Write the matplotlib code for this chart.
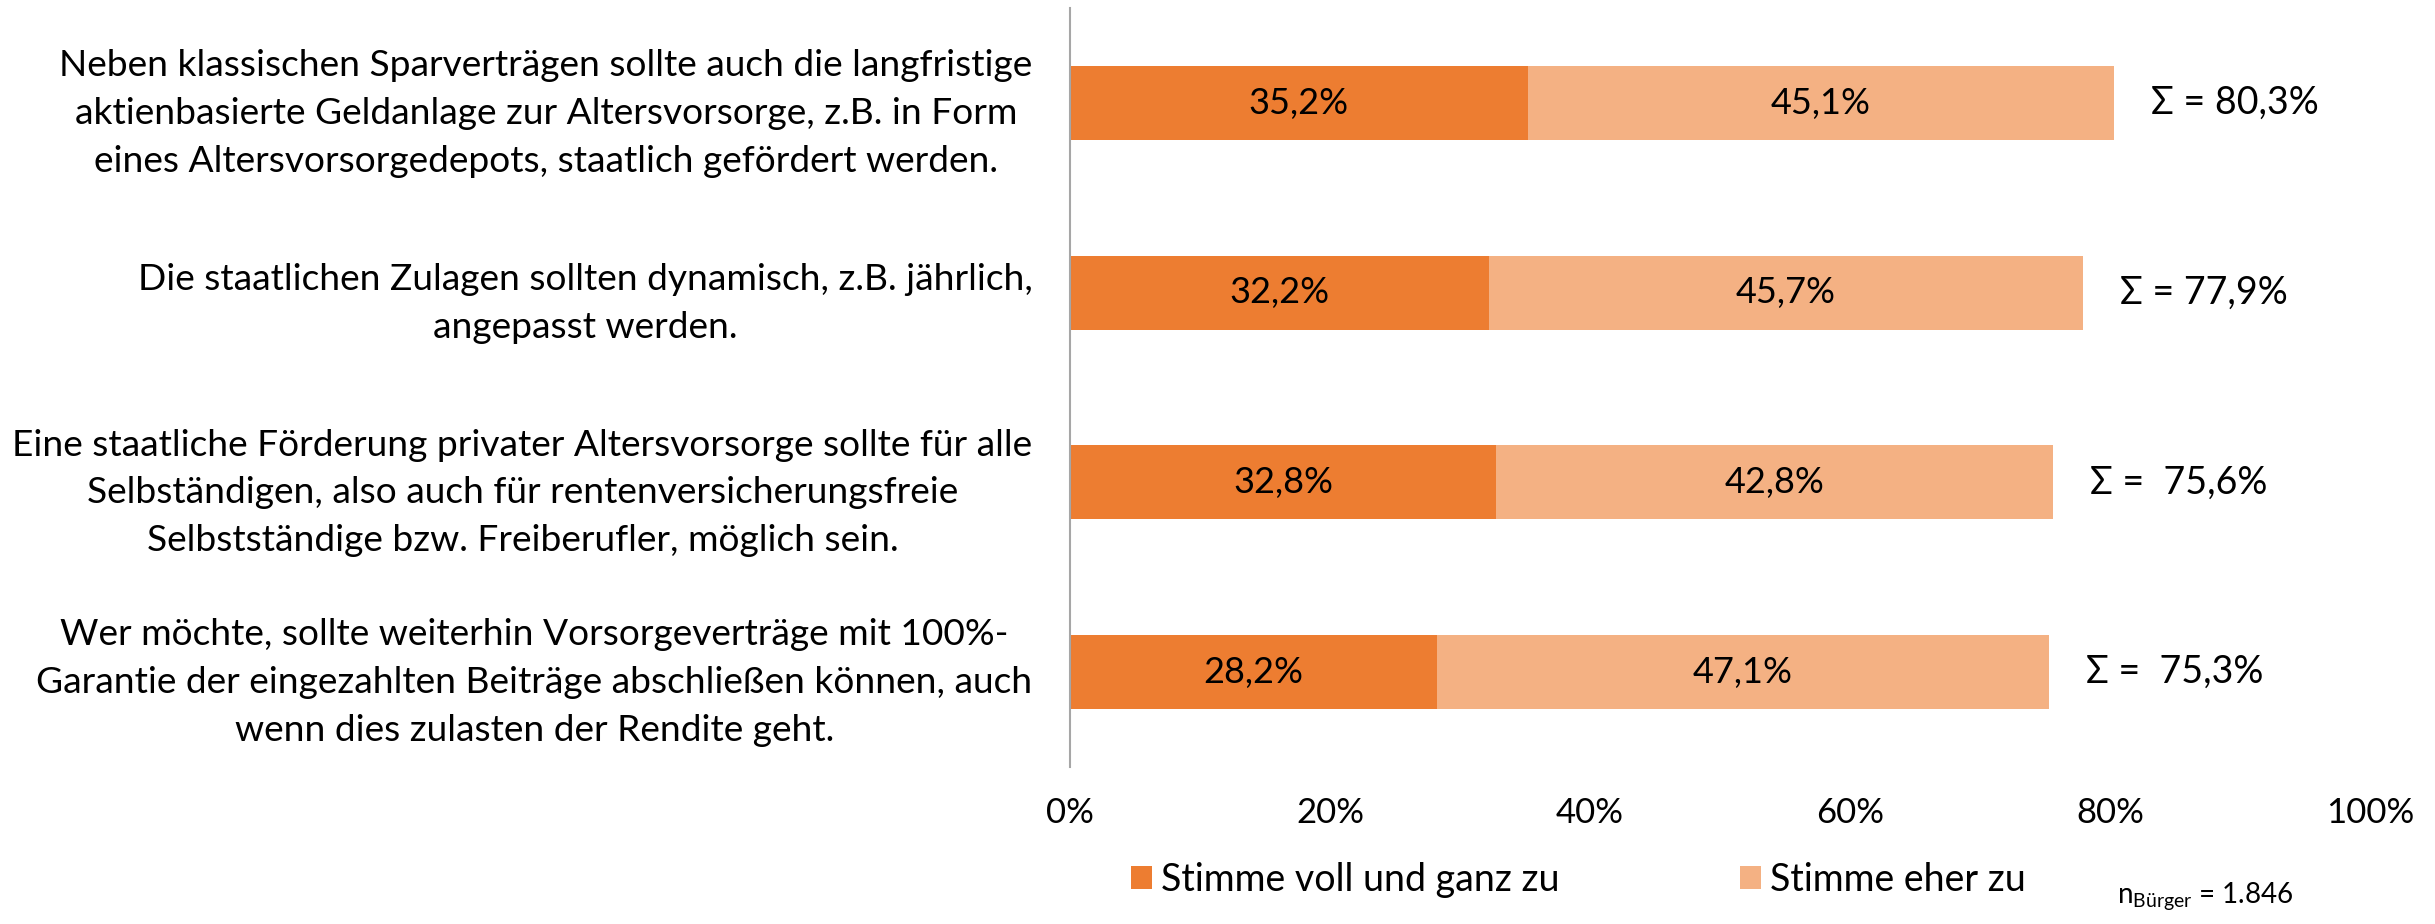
import matplotlib.pyplot as plt
import numpy as np

plt.rcParams['font.family'] = ['Lato', 'DejaVu Sans']
plt.rcParams['mathtext.fontset'] = 'custom'
plt.rcParams['mathtext.rm'] = 'Lato'

# --- Data ---
statements = [
    "Neben klassischen Sparverträgen sollte auch die langfristige\naktienbasierte Geldanlage zur Altersvorsorge, z.B. in Form\neines Altersvorsorgedepots, staatlich gefördert werden.",
    "Die staatlichen Zulagen sollten dynamisch, z.B. jährlich,\nangepasst werden.",
    "Eine staatliche Förderung privater Altersvorsorge sollte für alle\nSelbständigen, also auch für rentenversicherungsfreie\nSelbstständige bzw. Freiberufler, möglich sein.",
    "Wer möchte, sollte weiterhin Vorsorgeverträge mit 100%-\nGarantie der eingezahlten Beiträge abschließen können, auch\nwenn dies zulasten der Rendite geht.",
]
voll = [35.2, 32.2, 32.8, 28.2]
eher = [45.1, 45.7, 42.8, 47.1]
sum_labels = ["Σ = 80,3%", "Σ = 77,9%", "Σ =  75,6%", "Σ =  75,3%"]
series_names = ["Stimme voll und ganz zu", "Stimme eher zu"]
xticks = [0, 20, 40, 60, 80, 100]

c_dark = "#ED7D31"
c_light = "#F4B183"

fig = plt.figure(figsize=(24.35, 9.24), dpi=100)
ax = fig.add_axes([0.4394, 0.170, 0.5339, 0.821])

y = np.arange(len(statements))
h = 0.39
b1 = ax.barh(y, voll, h, color=c_dark, label=series_names[0])
b2 = ax.barh(y, eher, h, left=voll, color=c_light, label=series_names[1])

# value labels inside bars and sums
for i in range(len(y)):
    ax.text(voll[i] / 2, y[i], f"{voll[i]:.1f}%".replace(".", ","),
            ha="center", va="center", fontsize=26)
    ax.text(voll[i] + eher[i] / 2, y[i], f"{eher[i]:.1f}%".replace(".", ","),
            ha="center", va="center", fontsize=26)
    ax.annotate(sum_labels[i], xy=(voll[i] + eher[i], y[i]),
                xytext=(27, 0), textcoords="offset points",
                ha="left", va="center", fontsize=27)

ax.set_xlim(0, 100)
ax.set_ylim(3.5, -0.5)
ax.set_xticks(xticks)
ax.set_xticklabels([f"{t}%" for t in xticks], fontsize=25)
ax.set_yticks(y)
ax.set_yticklabels(statements, fontsize=26.7)
for lab in ax.get_yticklabels():
    lab.set_multialignment("center")
    lab.set_linespacing(1.55)
ax.tick_params(axis="both", length=0)
ax.tick_params(axis="y", pad=27)
ax.tick_params(axis="x", pad=22)

for s in ["top", "right", "bottom"]:
    ax.spines[s].set_visible(False)
ax.spines["left"].set_color("#A6A6A6")
ax.spines["left"].set_linewidth(1.5)

fig.legend(handles=[b1, b2], loc="center left", bbox_to_anchor=(0.4585, 0.048),
           ncol=2, frameon=False, fontsize=27, handlelength=0.55, handleheight=0.6,
           handletextpad=0.25, columnspacing=4.8, borderaxespad=0)

fig.text(0.942, 0.012, r"n$_{\mathrm{Bürger}}$ = 1.846", ha="right", va="bottom",
         fontsize=20)

fig.savefig("out.png", dpi=100)
